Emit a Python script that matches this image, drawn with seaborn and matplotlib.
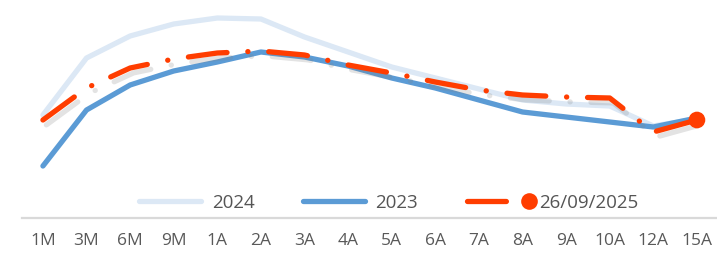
import pandas as pd
import seaborn as sns
import matplotlib.pyplot as plt
import matplotlib.patheffects as pe

plazos = ['1M', '3M', '6M', '9M', '1A', '2A', '3A', '4A', '5A', '6A', '7A', '8A', '9A', '10A', '12A', '15A']
curva_2024 = [3.03, 3.60, 3.82, 3.94, 4.00, 3.99, 3.81, 3.66, 3.51, 3.40, 3.29, 3.18, 3.14, 3.12, 2.92, 2.99]
curva_2023 = [2.52, 3.08, 3.33, 3.47, 3.56, 3.66, 3.61, 3.52, 3.40, 3.30, 3.18, 3.06, 3.01, 2.96, 2.91, 3.00]
curva_hoy = [2.98, 3.30, 3.50, 3.59, 3.65, 3.67, 3.63, 3.53, 3.45, 3.36, 3.28, 3.23, 3.21, 3.20, 2.86, 2.98]
etiquetas = ['2024', '2023', '26/09/2025']

df = pd.DataFrame({'plazo': plazos, '2024': curva_2024, '2023': curva_2023, 'hoy': curva_hoy})

sns.set_style('white')
plt.rcParams['font.family'] = ['Open Sans', 'DejaVu Sans']
plt.rcParams['lines.scale_dashes'] = False

fig = plt.figure(figsize=(7.17, 2.57), dpi=100)
ax = fig.add_axes([22 / 717, 39 / 257, 695 / 717, 218 / 257])

sns.lineplot(data=df, x='plazo', y='2024', sort=False, ax=ax, color='#dce8f5', lw=3.8,
             solid_capstyle='round', solid_joinstyle='round', zorder=1)
sns.lineplot(data=df, x='plazo', y='2023', sort=False, ax=ax, color='#5b9bd5', lw=3.8,
             solid_capstyle='round', solid_joinstyle='round', zorder=2)
sns.lineplot(data=df, x='plazo', y='hoy', sort=False, ax=ax, color='#ff3d00', lw=3.8,
             linestyle=(0, (28, 15, 0.1, 15)), dash_capstyle='round', dash_joinstyle='round',
             marker='o', markersize=12, markevery=[-1], markeredgewidth=0, zorder=3,
             path_effects=[pe.SimpleLineShadow(offset=(2.5, -3.5), shadow_color='0.5', alpha=0.22),
                           pe.Normal()])

ax.set_xlim(-0.48, 15.46)
ax.set_ylim(2.0, 4.18)
ax.set_xlabel('')
ax.set_ylabel('')
ax.set_yticks([])
for s in ['left', 'right', 'top']:
    ax.spines[s].set_visible(False)
ax.spines['bottom'].set_color('#d9d9d9')
ax.spines['bottom'].set_linewidth(1.6)
ax.tick_params(axis='x', length=0, pad=11, labelsize=12.5, labelcolor='#595959')

lineas = ax.get_lines()[:3]
leg = ax.legend(lineas, etiquetas, loc='center', bbox_to_anchor=(386 / 717, 1 - 203 / 257),
                bbox_transform=fig.transFigure, ncol=3, frameon=False, fontsize=13.5,
                handlelength=3.9, handletextpad=0.25, columnspacing=2.3, numpoints=2,
                labelcolor='#555555')
for h in leg.legend_handles:
    h.set_path_effects([])
leg.legend_handles[2].set_markevery([-1])

fig.savefig('out.png', dpi=100)
